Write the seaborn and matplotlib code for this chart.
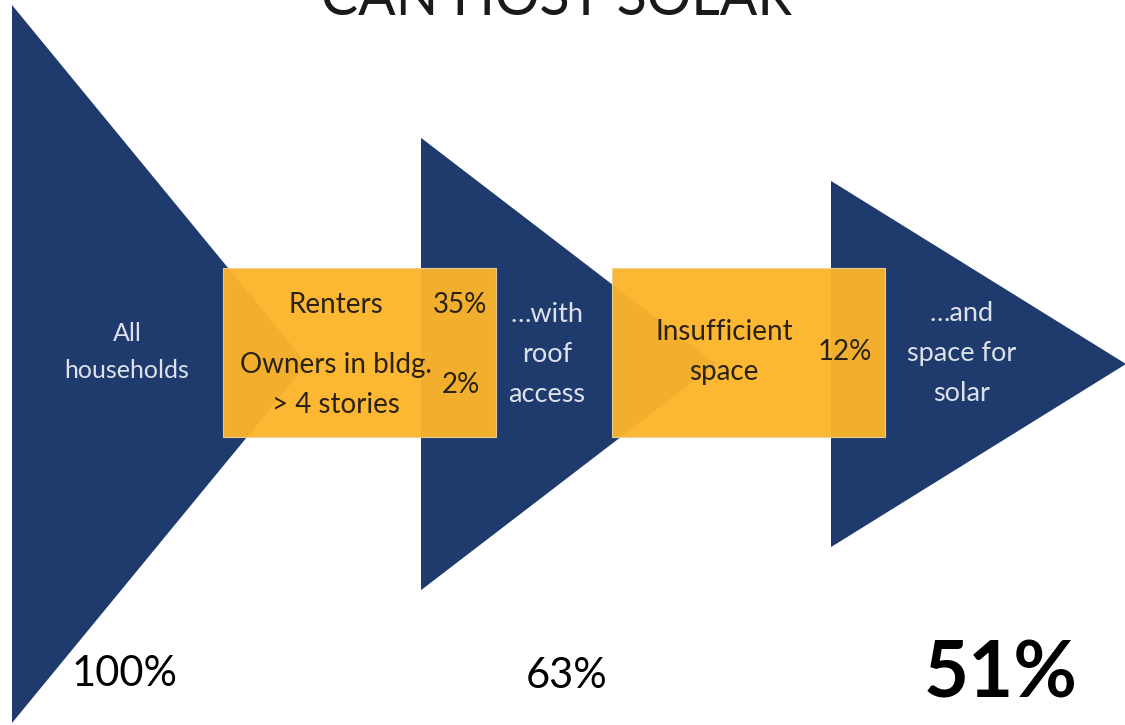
import matplotlib
matplotlib.use("Agg")
import matplotlib.pyplot as plt
import seaborn as sns
from matplotlib.patches import Polygon, Rectangle

# ---------------- data ----------------
title = "CAN HOST SOLAR"
stage_labels = ["All\nhouseholds", "…with\nroof\naccess", "…and\nspace for\nsolar"]
stage_values = [100, 63, 51]
loss_labels = [["Renters", "Owners in bldg.\n> 4 stories"], ["Insufficient\nspace"]]
loss_values = [[35, 2], [12]]

# ---------------- layout (pixel units) ----------------
W, H = 1125, 725
tri_left = [12, 421, 831]
tri_width = 295
center_y = 364
px_per_pct = 7.18
box_x = [(223, 496), (612, 885)]
box_y = (268, 437)
stage_label_xy = [(127, 352), (547, 354), (962, 353)]
stage_label_size = [18, 19.5, 19.5]
value_label_xy = [(125, 674), (567, 676), (1001, 675)]
loss_label_xy = [[(336, 305), (336, 385)], [(724, 352)]]
loss_value_xy = [[(460, 305), (461, 385)], [(845, 352)]]

navy = "#1F3B6E"
orange = "#FDB52A"
light_text = "#DCE1EA"
dark_text = "#2A2315"

sns.set_theme(style="white")
plt.rcParams["font.family"] = ["Lato", "DejaVu Sans"]

fig = plt.figure(figsize=(W / 100, H / 100), dpi=100)
ax = fig.add_axes([0, 0, 1, 1])
ax.set_xlim(0, W)
ax.set_ylim(H, 0)
ax.axis("off")
sns.despine(ax=ax, left=True, bottom=True)

# triangles, heights proportional to share of households
for x0, v in zip(tri_left, stage_values):
    h = v * px_per_pct
    tri = Polygon([(x0, center_y - h / 2), (x0, center_y + h / 2), (x0 + tri_width, center_y)],
                  closed=True, facecolor=navy, edgecolor="none", zorder=1)
    ax.add_patch(tri)

# loss boxes
for (xa, xb) in box_x:
    ax.add_patch(Rectangle((xa, box_y[0]), xb - xa, box_y[1] - box_y[0],
                           facecolor=orange, edgecolor="#E8CF9A", linewidth=0.8,
                           alpha=0.955, zorder=2))

# stage labels
for (x, y), lab, fs in zip(stage_label_xy, stage_labels, stage_label_size):
    ax.text(x, y, lab, ha="center", va="center", color=light_text,
            fontsize=fs, linespacing=1.75, zorder=3)

# loss labels and values
for labs, vals, lxy, vxy in zip(loss_labels, loss_values, loss_label_xy, loss_value_xy):
    for lab, val, (lx, ly), (vx, vy) in zip(labs, vals, lxy, vxy):
        ax.text(lx, ly, lab, ha="center", va="center", color=dark_text,
                fontsize=20, linespacing=1.65, zorder=3)
        ax.text(vx, vy, f"{val}%", ha="center", va="center", color=dark_text,
                fontsize=20, zorder=3)

# bottom values
for i, ((x, y), v) in enumerate(zip(value_label_xy, stage_values)):
    last = i == len(stage_values) - 1
    ax.text(x, y, f"{v}%", ha="center", va="center", color="black",
            fontsize=56 if last else 30, fontweight="bold" if last else "normal",
            zorder=3)

# title (partially cut off at top, as in the source)
ax.text(557, 15, title, ha="center", va="baseline", color="#1A1A1A",
        fontsize=40, fontweight="normal", zorder=3)

fig.savefig("out.png", dpi=100, facecolor="white")
